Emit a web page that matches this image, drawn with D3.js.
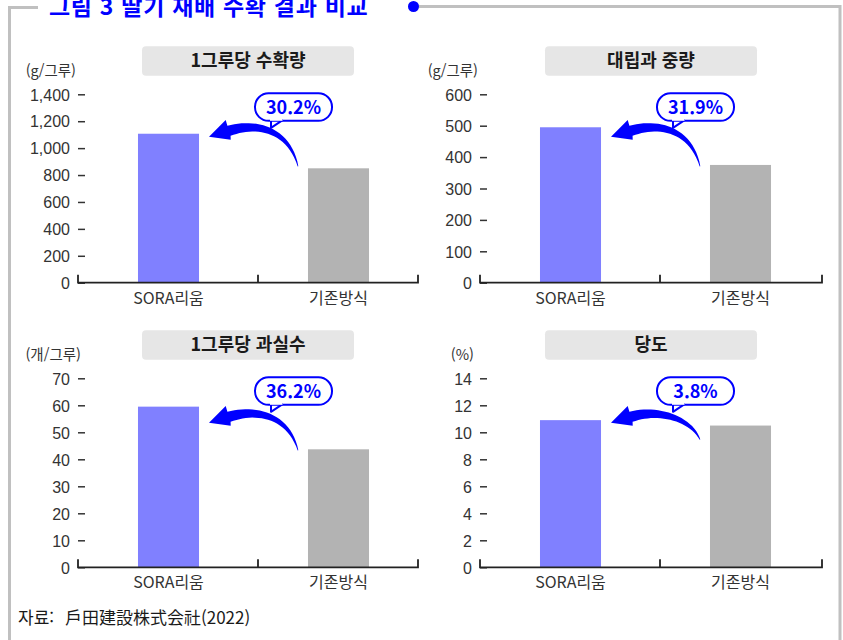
<!DOCTYPE html>
<html lang="ko">
<head>
  <meta charset="utf-8">
  <title>그림 3 딸기 재배 수확 결과 비교</title>
  <script src="https://cdn.jsdelivr.net/npm/d3@7"></script>
  <style>
    body { margin: 0; background: #fff; }
    svg { display: block; font-family: "Noto Sans CJK KR", "Noto Sans", sans-serif; }
    .tick-label { font-size: 16px; fill: #333; }
    .cat-label { font-size: 16px; fill: #333; }
    .unit { font-size: 14.5px; fill: #333; }
    .panel-title { font-size: 18px; font-weight: bold; fill: #1a1a1a; }
  </style>
</head>
<body>
<script>
  // 데이터
  const categories = ["SORA리움", "기존방식"];
  const panelTitles = ["1그루당 수확량", "대립과 중량", "1그루당 과실수", "당도"];
  const units = ["(g/그루)", "(g/그루)", "(개/그루)", "(%)"];
  const soraValues = [1107, 495, 59.5, 10.9];
  const conventionalValues = [850, 375, 43.7, 10.5];
  const yMax = [1400, 600, 70, 14];
  const yStep = [200, 100, 10, 2];
  const growthLabels = ["30.2%", "31.9%", "36.2%", "3.8%"];

  const w = 843, h = 640;
  const blue = "#0000ff";
  const frameGray = "#c0c0c0";
  const barColors = ["#8080ff", "#b3b3b3"];

  // 패널 배치 (위치만)
  const panels = [
    { x0: 78, x1: 418, top: 94.3, base: 282.7, unitX: 76 },
    { x0: 480, x1: 822, top: 94.3, base: 282.7, unitX: 478 },
    { x0: 78, x1: 418, top: 378.3, base: 567.3, unitX: 81 },
    { x0: 480, x1: 822, top: 378.3, base: 567.3, unitX: 474 }
  ];

  const svg = d3.select("body").append("svg")
    .attr("width", w)
    .attr("height", h);

  // 바깥 테두리
  svg.append("path")
    .attr("d", "M38,7.5 H9.5 V" + h)
    .attr("fill", "none")
    .attr("stroke", frameGray)
    .attr("stroke-width", 3);
  svg.append("path")
    .attr("d", "M413.5,6.5 H840 V" + h)
    .attr("fill", "none")
    .attr("stroke", frameGray)
    .attr("stroke-width", 3);
  svg.append("circle")
    .attr("cx", 413.5).attr("cy", 6.5).attr("r", 5.5)
    .attr("fill", blue);

  svg.append("text")
    .attr("x", 49).attr("y", 15)
    .attr("font-size", 23)
    .attr("font-weight", "bold")
    .attr("letter-spacing", 0.7)
    .attr("fill", blue)
    .text("그림 3 딸기 재배 수확 결과 비교");

  // 화살표 모양 (tip 기준 좌표)
  function arrowPath(sx, sy) {
    const p0 = [20, -6], c1 = [45, -14], c2 = [sx - 10, sy - 40 * sy / 30], p3 = [sx, sy];
    const top = [], bottom = [];
    for (let i = 0; i <= 24; i++) {
      const t = i / 24, u = 1 - t;
      const x = u*u*u*p0[0] + 3*u*u*t*c1[0] + 3*u*t*t*c2[0] + t*t*t*p3[0];
      const y = u*u*u*p0[1] + 3*u*u*t*c1[1] + 3*u*t*t*c2[1] + t*t*t*p3[1];
      const dx = 3*u*u*(c1[0]-p0[0]) + 6*u*t*(c2[0]-c1[0]) + 3*t*t*(p3[0]-c2[0]);
      const dy = 3*u*u*(c1[1]-p0[1]) + 6*u*t*(c2[1]-c1[1]) + 3*t*t*(p3[1]-c2[1]);
      const len = Math.hypot(dx, dy);
      const nx = -dy / len, ny = dx / len;
      const hw = 5 * Math.pow(u, 0.8) + 0.3;
      top.push([x - nx * hw, y - ny * hw]);
      bottom.push([x + nx * hw, y + ny * hw]);
    }
    const pts = [[0, 0], [16.7, -16.7]].concat(top, bottom.reverse(), [[21.7, 3]]);
    return "M" + pts.map(p => p[0].toFixed(1) + "," + p[1].toFixed(1)).join("L") + "Z";
  }

  panels.forEach(function (p, i) {
    const g = svg.append("g");
    const values = [soraValues[i], conventionalValues[i]];

    const x = d3.scaleBand()
      .domain(categories)
      .range([p.x0 + 5.5, p.x0 + 345.5])
      .paddingInner(0.641)
      .paddingOuter(0.3205);

    const y = d3.scaleLinear()
      .domain([0, yMax[i]])
      .range([p.base, p.top]);

    // 제목 상자
    const cx = (p.x0 + p.x1) / 2;
    const boxTop = p.top - 48;
    g.append("rect")
      .attr("x", cx - 106).attr("y", boxTop)
      .attr("width", 212).attr("height", 29.5)
      .attr("rx", 4)
      .attr("fill", "#e6e6e6");
    g.append("text")
      .attr("class", "panel-title")
      .attr("x", cx).attr("y", boxTop + 21)
      .attr("text-anchor", "middle")
      .text(panelTitles[i]);

    // 단위
    g.append("text")
      .attr("class", "unit")
      .attr("x", p.unitX).attr("y", p.top - 18)
      .attr("text-anchor", "end")
      .text(units[i]);

    // y축 눈금
    const ticks = d3.range(0, yMax[i] + yStep[i] / 2, yStep[i]);
    const yAxis = g.append("g")
      .attr("transform", "translate(" + p.x0 + ",0)")
      .call(d3.axisLeft(y).tickValues(ticks).tickSize(0).tickPadding(8).tickFormat(d3.format(",")));
    yAxis.select(".domain").remove();
    yAxis.selectAll("text")
      .attr("class", "tick-label")
      .attr("font-family", null)
      .attr("font-size", null)
      .attr("fill", null)
      .attr("dy", "0.36em");
    yAxis.selectAll(".tick").append("line")
      .attr("x1", 0).attr("x2", 7)
      .attr("stroke", "#333")
      .attr("stroke-width", 1.5);

    // 막대
    g.selectAll("rect.bar")
      .data(values)
      .enter()
      .append("rect")
      .attr("class", "bar")
      .attr("x", (d, j) => x(categories[j]))
      .attr("y", d => y(d))
      .attr("width", x.bandwidth())
      .attr("height", d => p.base - y(d))
      .attr("fill", (d, j) => barColors[j]);

    // x축
    g.append("path")
      .attr("d", "M" + p.x0 + "," + (p.base - 8) + "V" + p.base +
        "H" + p.x1 + "V" + (p.base - 8) +
        "M" + (p.x0 + 180) + "," + (p.base - 8) + "V" + p.base)
      .attr("fill", "none")
      .attr("stroke", "#222")
      .attr("stroke-width", 1.8);

    g.selectAll("text.cat-label")
      .data(categories)
      .enter()
      .append("text")
      .attr("class", "cat-label")
      .attr("x", d => x(d) + x.bandwidth() / 2)
      .attr("y", p.base + 21)
      .attr("text-anchor", "middle")
      .text(d => d);

    // 말풍선
    const bx = p.x0 + 177, by = p.top - 1, bw = 77, bh = 27.5;
    g.append("path")
      .attr("d", "M" + (bx + 16) + "," + (by + bh - 1) + "V" + (by + bh + 7) + "L" + (bx + 28) + "," + (by + bh - 1))
      .attr("fill", "#fff")
      .attr("stroke", blue)
      .attr("stroke-width", 2)
      .attr("stroke-linejoin", "round");
    g.append("rect")
      .attr("x", bx).attr("y", by)
      .attr("width", bw).attr("height", bh)
      .attr("rx", 13.5)
      .attr("fill", "none")
      .attr("stroke", blue)
      .attr("stroke-width", 2);
    g.append("rect")
      .attr("x", bx + 15).attr("y", by + bh - 3)
      .attr("width", 12.5).attr("height", 3)
      .attr("fill", "#fff");
    g.append("text")
      .attr("x", bx + bw / 2).attr("y", by + bh / 2 + 6.5)
      .attr("text-anchor", "middle")
      .attr("font-size", 18)
      .attr("font-weight", "bold")
      .attr("fill", blue)
      .text(growthLabels[i]);

    // 화살표
    const tipX = p.x0 + 131, tipY = by + bh + 16 + (i >= 2 ? 2 : 0);
    const startY = Math.min(p.top + 72, y(values[1]) + 14);
    g.append("path")
      .attr("transform", "translate(" + tipX + "," + tipY + ")")
      .attr("d", arrowPath(89, startY - tipY))
      .attr("fill", blue);
  });

  // 자료
  const src = svg.append("text")
    .attr("x", 18).attr("y", 623.5)
    .attr("font-size", 17)
    .attr("fill", "#1a1a1a");
  src.append("tspan").text("자료:");
  src.append("tspan")
    .attr("x", 65)
    .attr("font-family", "'Noto Sans CJK JP', 'Noto Sans CJK KR', sans-serif")
    .text("戸田建設株式会社(2022)");
</script>
</body>
</html>
